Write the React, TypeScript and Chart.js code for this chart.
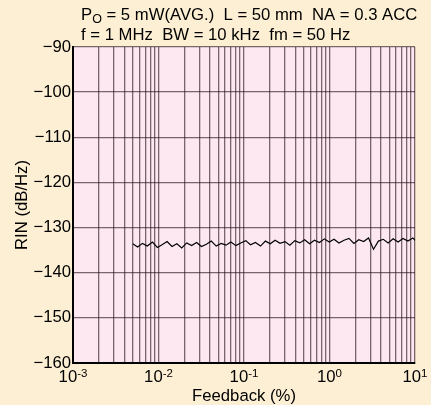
import React, { useEffect, useRef } from "react";
import { Chart, registerables } from "chart.js";

Chart.register(...registerables);

const FEEDBACK_PCT = [
  0.005, 0.0057, 0.0065, 0.0074, 0.0085, 0.0097, 0.011, 0.0126, 0.0144, 0.0164,
  0.0187, 0.0214, 0.0244, 0.0279, 0.0318, 0.0363, 0.0414, 0.0473, 0.054, 0.0616,
  0.0703, 0.0803, 0.0916, 0.105, 0.119, 0.136, 0.156, 0.178, 0.203, 0.231,
  0.264, 0.302, 0.344, 0.393, 0.449, 0.512, 0.585, 0.667, 0.762, 0.87,
  0.993, 1.13, 1.29, 1.48, 1.69, 1.93, 2.2, 2.51, 2.86, 3.27,
  3.73, 4.26, 4.86, 5.55, 6.34, 7.23, 8.26, 9.43, 10,
];

const RIN_DB = [
  -133.6, -134.3, -133.5, -134.1, -133.2, -134.4, -133.8, -133.1, -134.2, -133.6,
  -134.5, -133.4, -134.0, -133.3, -134.2, -133.7, -133.0, -134.1, -133.5, -133.9,
  -133.2, -134.0, -133.4, -132.9, -133.8, -133.3, -134.1, -133.0, -133.6, -132.8,
  -133.5, -133.1, -133.9, -132.9, -133.4, -132.7, -133.6, -132.8, -133.3, -132.5,
  -133.2, -132.6, -133.4, -132.8, -132.4, -133.5, -132.7, -133.1, -132.3, -134.8,
  -133.0, -132.6, -133.4, -132.5, -133.2, -132.4, -133.0, -132.3, -132.8,
];

const X_DECADES = [0.001, 0.01, 0.1, 1, 10];
const X_EXPONENTS = ["-3", "-2", "-1", "0", "1"];
const X_MULTIPLIERS = [1, 2, 3, 4, 5, 6, 7, 8, 9];
const Y_MIN = -160;
const Y_MAX = -90;
const Y_STEP = 10;

const TITLE_LINE1_SUB = "O";
const TITLE_LINE1_REST = " = 5 mW(AVG.)  L = 50 mm  NA = 0.3 ACC";
const TITLE_LINE2 = "f = 1 MHz  BW = 10 kHz  fm = 50 Hz";
const X_TITLE = "Feedback (%)";
const Y_TITLE = "RIN (dB/Hz)";

const FONT = "'Liberation Sans', Arial, sans-serif";
const FS = 16.7;
const BG = "#fdefd3";
const PLOT_BG = "#fde8f1";
const GRID = "rgba(40,20,30,0.62)";

const decorPlugin = {
  id: "decor",
  beforeDraw(chart: any) {
    const { ctx, chartArea } = chart;
    ctx.save();
    ctx.fillStyle = BG;
    ctx.fillRect(0, 0, chart.width, chart.height);
    ctx.fillStyle = PLOT_BG;
    ctx.fillRect(chartArea.left, chartArea.top, chartArea.right - chartArea.left, chartArea.bottom - chartArea.top);
    ctx.restore();
  },
  afterDraw(chart: any) {
    const { ctx, chartArea } = chart;
    const xs = chart.scales.x;
    ctx.save();
    ctx.fillStyle = "#000";
    ctx.textBaseline = "alphabetic";
    ctx.textAlign = "left";
    ctx.font = `${FS}px ${FONT}`;
    let x = 81;
    ctx.fillText("P", x, 20);
    x += ctx.measureText("P").width;
    ctx.font = `12.5px ${FONT}`;
    ctx.fillText(TITLE_LINE1_SUB, x, 23);
    x += ctx.measureText(TITLE_LINE1_SUB).width;
    ctx.font = `${FS}px ${FONT}`;
    ctx.fillText(TITLE_LINE1_REST, x, 20);
    ctx.fillText(TITLE_LINE2, 81, 40);

    X_DECADES.forEach((v, i) => {
      const px = xs.getPixelForValue(v);
      ctx.font = `${FS}px ${FONT}`;
      const w1 = ctx.measureText("10").width;
      ctx.font = `11.5px ${FONT}`;
      const w2 = ctx.measureText(X_EXPONENTS[i]).width;
      const start = px - (w1 + w2) / 2;
      ctx.font = `${FS}px ${FONT}`;
      ctx.fillText("10", start, chartArea.bottom + 19);
      ctx.font = `11.5px ${FONT}`;
      ctx.fillText(X_EXPONENTS[i], start + w1, chartArea.bottom + 14);
    });

    ctx.font = `${FS}px ${FONT}`;
    ctx.textAlign = "center";
    ctx.fillText(X_TITLE, (chartArea.left + chartArea.right) / 2, chartArea.bottom + 38);

    ctx.translate(27, (chartArea.top + chartArea.bottom) / 2);
    ctx.rotate(-Math.PI / 2);
    ctx.textAlign = "center";
    ctx.fillText(Y_TITLE, 0, 0);
    ctx.restore();
  },
};

export default function App() {
  const ref = useRef<HTMLCanvasElement | null>(null);
  useEffect(() => {
    if (!ref.current) return;
    Chart.defaults.font.family = FONT;
    const chart = new Chart(ref.current, {
      type: "line",
      data: {
        datasets: [
          {
            data: FEEDBACK_PCT.map((f, i) => ({ x: f, y: RIN_DB[i] })),
            borderColor: "#000",
            borderWidth: 1.2,
            pointRadius: 0,
            tension: 0,
            fill: false,
          },
        ],
      },
      options: {
        responsive: false,
        animation: false,
        layout: { padding: { top: 47, right: 16, left: 0, bottom: 0 } },
        plugins: { legend: { display: false }, tooltip: { enabled: false } },
        scales: {
          x: {
            type: "logarithmic",
            min: X_DECADES[0],
            max: X_DECADES[X_DECADES.length - 1],
            afterBuildTicks: (s: any) => {
              const t: any[] = [];
              X_DECADES.slice(0, -1).forEach((d) =>
                X_MULTIPLIERS.forEach((m) => t.push({ value: +(d * m).toPrecision(3) }))
              );
              t.push({ value: X_DECADES[X_DECADES.length - 1] });
              s.ticks = t;
            },
            afterFit: (s: any) => {
              s.height = 42;
            },
            ticks: { display: false },
            grid: { color: GRID, lineWidth: 1.3, drawTicks: false },
            border: { display: true, color: "#000", width: 2 },
          },
          y: {
            type: "linear",
            min: Y_MIN,
            max: Y_MAX,
            afterFit: (s: any) => {
              s.width = 73;
            },
            ticks: {
              stepSize: Y_STEP,
              padding: 2,
              color: "#000",
              font: { size: FS, family: FONT },
              callback: (v: any) => String(v).replace("-", "\u2212"),
            },
            grid: { color: GRID, lineWidth: 1.3, drawTicks: false },
            border: { display: true, color: "#000", width: 2 },
          },
        },
      },
      plugins: [decorPlugin],
    } as any);
    return () => chart.destroy();
  }, []);
  return (
    <div style={{ position: "fixed", left: 0, top: 0, width: 431, height: 405, background: BG }}>
      <canvas ref={ref} width={431} height={405} style={{ display: "block" }} />
    </div>
  );
}
